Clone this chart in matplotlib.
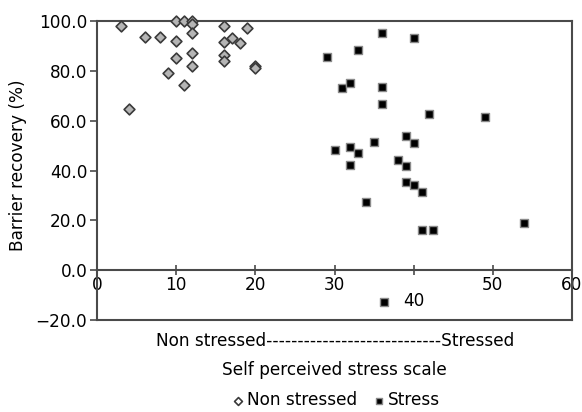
import matplotlib.pyplot as plt

plt.rcParams['font.family'] = ['DejaVu Sans']

# Non stressed group (diamonds)
ns_x = [3, 4, 6, 8, 10, 10, 11, 12, 12, 12, 10, 9, 11, 12, 12,
        16, 16, 16, 16, 17, 18, 19, 20, 20]
ns_y = [98, 64.5, 93.5, 93.5, 92, 100, 100, 100, 99, 95, 85, 79, 74.5, 87, 82,
        98, 91.5, 86.5, 84, 93, 91, 97, 82, 81]

# Stress group (squares)
st_x = [36, 40, 33, 29, 31, 32, 36, 36, 42, 49,
        30, 32, 33, 32, 35, 39, 40, 38, 39, 39, 40, 41, 34, 41, 42.5, 54, 36.2]
st_y = [95, 93, 88.5, 85.5, 73, 75, 73.5, 66.5, 62.5, 61.5,
        48.2, 49.5, 47, 42.2, 51.5, 53.8, 51, 44.2, 42, 35.2, 34.1, 31.4, 27.2, 16.1, 16.1, 18.8, -12.7]

x_ticks = [0, 10, 20, 30, 40, 50, 60]
y_ticks = [-20, 0, 20, 40, 60, 80, 100]

fs = 12.2

fig = plt.figure(figsize=(5.82, 4.12), dpi=100)
ax = fig.add_axes([0.1667, 0.2233, 0.8161, 0.7257])

ax.scatter(ns_x, ns_y, marker='D', s=30, facecolor='#b5b5b5', edgecolor='#3a3a3a',
           linewidth=1.2, zorder=3, clip_on=False)
ax.scatter(st_x, st_y, marker='s', s=32, facecolor='black', edgecolor='#8a8a8a',
           linewidth=1.0, zorder=3, clip_on=False)

ax.set_xlim(0, 60)
ax.set_ylim(-20, 100)
ax.set_xticks(x_ticks)
ax.set_yticks(y_ticks)
ax.set_yticklabels([f'{v:.1f}'.replace('-', '\u2212') for v in y_ticks])
ax.set_xticklabels([str(v) for v in x_ticks])

spine_col = '#4a4a4a'
for s in ax.spines.values():
    s.set_color(spine_col)
    s.set_linewidth(1.5)
ax.spines['bottom'].set_position(('data', 0))
ax.axhline(-20, color=spine_col, lw=1.5, clip_on=False)

ax.tick_params(axis='y', direction='out', length=5, width=1.2, color=spine_col,
               labelsize=fs, pad=2)
ax.tick_params(axis='x', direction='inout', length=7, width=1.2, color=spine_col,
               labelsize=fs, pad=1)
ax.xaxis.get_major_ticks()[4].set_pad(12)

ax.set_ylabel('Barrier recovery (%)', fontsize=fs)
ax.yaxis.set_label_coords(-0.147, 0.518)

fig.text(0.575, 0.172, 'Non stressed' + '-' * 28 + 'Stressed',
         ha='center', va='center', fontsize=fs)
fig.text(0.575, 0.102, 'Self perceived stress scale',
         ha='center', va='center', fontsize=fs)

# legend proxies
h1 = ax.scatter([], [], marker='D', s=16, facecolor='white', edgecolor='#3a3a3a', linewidth=1.2)
h2 = ax.scatter([], [], marker='s', s=20, facecolor='black', edgecolor='#8a8a8a', linewidth=1.0)
fig.legend([h1, h2], ['Non stressed', 'Stress'], loc='center',
           bbox_to_anchor=(0.578, 0.028), ncol=2, frameon=False, fontsize=fs,
           handlelength=0.6, handletextpad=0.2, columnspacing=1.0)

fig.savefig('out.png', dpi=100)
